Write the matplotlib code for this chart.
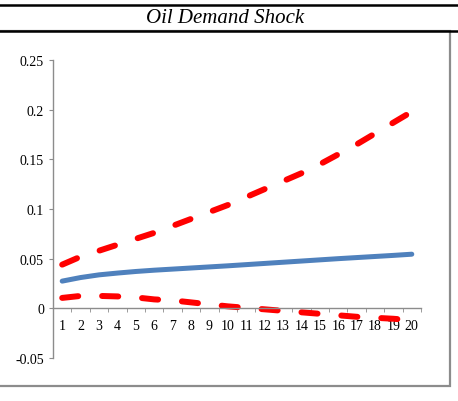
import matplotlib
matplotlib.use("Agg")
import matplotlib.pyplot as plt
from matplotlib.lines import Line2D
from matplotlib.patches import Rectangle

# impulse response horizon (categories) and series
periods = list(range(1, 21))
response = [0.0274, 0.0310, 0.0337, 0.0355, 0.0371, 0.0384, 0.0395, 0.0406, 0.0417, 0.0428,
            0.0440, 0.0452, 0.0464, 0.0476, 0.0488, 0.0500, 0.0511, 0.0522, 0.0533, 0.0545]
upper = [0.044, 0.052, 0.058, 0.064, 0.070, 0.076, 0.083, 0.090, 0.097, 0.104,
         0.112, 0.120, 0.128, 0.136, 0.145, 0.155, 0.165, 0.176, 0.187, 0.198]
lower = [0.0105, 0.0125, 0.0125, 0.012, 0.011, 0.009, 0.008, 0.006, 0.004, 0.002,
         0.0005, -0.001, -0.0025, -0.004, -0.0055, -0.007, -0.0085, -0.0095, -0.0105, -0.012]
yticks = [-0.05, 0, 0.05, 0.1, 0.15, 0.2, 0.25]
ytick_labels = ["-0.05", "0", "0.05", "0.1", "0.15", "0.2", "0.25"]
title = "Oil Demand Shock"

plt.rcParams["font.family"] = ["Liberation Serif", "DejaVu Serif"]

W, H = 458, 402
fig = plt.figure(figsize=(W / 100, H / 100), dpi=100)

# table-style frame: two black rules and a grey chart box
grey = "#8c8c8c"
fig.add_artist(Rectangle((-5 / W, 1 - 387 / H), 455 / W, (387 - 32) / H,
                         transform=fig.transFigure, fill=False, ec=grey, lw=1.6))
for y in (5.5, 31.5):
    fig.add_artist(Line2D([0, 1], [1 - y / H, 1 - y / H], transform=fig.transFigure,
                          color="black", lw=1.8))
fig.text(225 / W, 1 - 18.5 / H, title, ha="center", va="center",
         fontsize=15, style="italic")

# axes placed so that -0.05..0.25 spans pixels 359..61
left, right = 53, 421
top, bottom = 61, 359
ax = fig.add_axes([left / W, 1 - bottom / H, (right - left) / W, (bottom - top) / H])

x = [p - 1 for p in periods]
ax.plot(x, response, color="#4f81bd", lw=3.6, solid_capstyle="round",
        solid_joinstyle="round")
for band in (upper, lower):
    (ln,) = ax.plot(x, band, color="#ff0000", lw=4.3, dash_capstyle="round",
                    dash_joinstyle="round")
    ln.set_dashes((2.7, 4.0))

ax.set_xlim(-0.5, len(periods) - 0.5)
ax.set_ylim(-0.05, 0.25)
ax.set_yticks(yticks)
ax.set_yticklabels(ytick_labels)

ax.spines["top"].set_visible(False)
ax.spines["right"].set_visible(False)
for side in ("left", "bottom"):
    ax.spines[side].set_color(grey)
    ax.spines[side].set_linewidth(1.0)
ax.spines["bottom"].set_position(("data", 0))

# category labels at centres, tick marks at category boundaries
ax.set_xticks(x)
ax.set_xticklabels([str(p) for p in periods])
ax.tick_params(axis="x", which="major", length=0, pad=8, labelsize=10)
ax.set_xticks([i - 0.5 for i in range(len(periods) + 1)], minor=True)
ax.tick_params(axis="x", which="minor", length=3, color=grey, direction="out")
ax.tick_params(axis="y", length=3, color=grey, direction="out", labelsize=10, pad=3.5)
ax.patch.set_visible(False)

fig.savefig("out.png", dpi=100)
